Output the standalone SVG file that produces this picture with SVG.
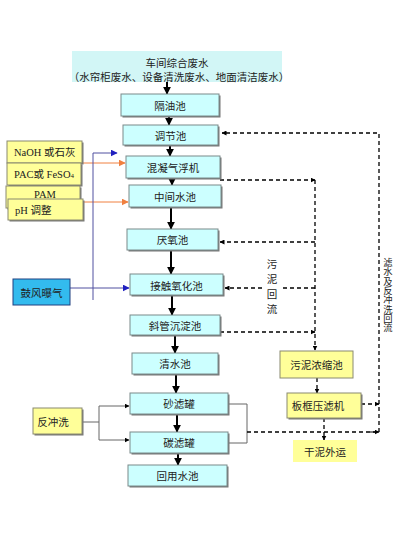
<svg xmlns="http://www.w3.org/2000/svg" width="400" height="540" viewBox="0 0 400 540">
<style>
text{font-family:"Noto Sans CJK SC","Liberation Sans",sans-serif;font-size:10.5px;fill:#222;text-anchor:middle;dominant-baseline:central}
.serif{font-family:"Liberation Serif","Noto Sans CJK SC",serif;text-anchor:start}
.v{font-size:9.3px;writing-mode:vertical-rl;text-anchor:start;dominant-baseline:auto}
.c{fill:#ccffff;stroke:#7a8a8a;stroke-width:1}
.y{fill:#ffff99;stroke:#8a8a70;stroke-width:1}
.sh{fill:#777}
.main{stroke:#000;stroke-width:2;fill:none;marker-end:url(#ah)}
.dash{stroke:#000;stroke-width:1.3;stroke-dasharray:4 3;fill:none}
.gray{stroke:#666;stroke-width:1;fill:none}
</style>
<defs>
<marker id="ah" viewBox="0 0 10 10" refX="9" refY="5" markerWidth="4" markerHeight="4" orient="auto"><path d="M0,0L10,5L0,10z" fill="#000"/></marker>
<marker id="ad" viewBox="0 0 10 10" refX="9" refY="5" markerWidth="5" markerHeight="5" markerUnits="userSpaceOnUse" orient="auto"><path d="M0,0L10,5L0,10z" fill="#000"/></marker>
<marker id="ab" viewBox="0 0 10 10" refX="9" refY="5" markerWidth="7" markerHeight="7" markerUnits="userSpaceOnUse" orient="auto"><path d="M0,0L10,5L0,10z" fill="#2020c0"/></marker>
<marker id="ao" viewBox="0 0 10 10" refX="9" refY="5" markerWidth="7" markerHeight="7" markerUnits="userSpaceOnUse" orient="auto"><path d="M0,0L10,5L0,10z" fill="#f08040"/></marker>
</defs>
<rect width="400" height="540" fill="#fff"/>

<g id="connectors">
<line class="main" x1="167" y1="82" x2="167" y2="94"/>
<line class="main" x1="169" y1="116" x2="169" y2="125"/>
<line class="main" x1="170" y1="145" x2="170" y2="156"/>
<line class="main" x1="172" y1="178" x2="172" y2="185"/>
<line class="main" x1="171" y1="207" x2="171" y2="229"/>
<line class="main" x1="171" y1="250" x2="171" y2="274"/>
<line class="main" x1="172" y1="296" x2="172" y2="315"/>
<line class="main" x1="175" y1="335" x2="175" y2="353"/>
<line class="main" x1="176" y1="374" x2="176" y2="393"/>
<line class="main" x1="177" y1="414" x2="177" y2="432"/>
<line class="main" x1="178" y1="453" x2="178" y2="465"/>
<line x1="82" y1="163" x2="125" y2="163" stroke="#f08040" stroke-width="1" marker-end="url(#ao)"/>
<line x1="83" y1="202" x2="128" y2="202" stroke="#f08040" stroke-width="1" marker-end="url(#ao)"/>
<polyline points="93,300 93,153 117,153" stroke="#5050a0" stroke-width="1" fill="none" marker-end="url(#ab)"/>
<line x1="70" y1="288" x2="129" y2="288" stroke="#5050a0" stroke-width="1" marker-end="url(#ab)"/>
<polyline class="gray" points="82,422 99,422"/>
<polyline class="gray" points="99,406 99,440"/>
<line x1="99" y1="406" x2="129" y2="406" stroke="#666" stroke-width="1" marker-end="url(#ad)"/>
<line x1="99" y1="440" x2="129" y2="440" stroke="#666" stroke-width="1" marker-end="url(#ad)"/>
<polyline class="gray" points="228,404 247,404 247,443 228,443"/>
<polyline class="dash" points="247,432 379,432"/>
<line x1="370" y1="432" x2="379" y2="432" stroke="#000" stroke-width="1" marker-end="url(#ad)"/>
<polyline class="dash" points="379,432 379,133 222,133" marker-end="url(#ad)"/>
<polyline class="dash" points="361,404 379,404" marker-end="url(#ad)"/>
<polyline class="dash" points="220,180 315,180" marker-end="url(#ad)"/>
<polyline class="dash" points="315,180 315,350" marker-end="url(#ad)"/>
<polyline class="dash" points="315,242 220,242" marker-end="url(#ad)"/>
<polyline class="dash" points="315,288 283,288"/>
<polyline class="dash" points="262,288 225,288" marker-end="url(#ad)"/>
<polyline class="dash" points="220,332 315,332" marker-end="url(#ad)"/>
<polyline class="dash" points="317,378 317,393" marker-end="url(#ad)"/>
<polyline class="dash" points="324,418 324,440" marker-end="url(#ad)"/>
<text x="272" y="263">污</text>
<text x="272" y="278">泥</text>
<text x="272" y="293">回</text>
<text x="272" y="308">流</text>
<text class="v" x="388" y="258">滤水及反冲洗回流</text>
</g>

<g id="n-source">
<rect x="72" y="51" width="210" height="31" fill="#d2f6f6"/>
<text x="177" y="62" font-size="10">车间综合废水</text>
<text x="179" y="76.5" font-size="8.8">（水帘柜废水、设备清洗废水、地面清洁废水）</text>
</g>
<g id="n-geyou"><rect class="sh" x="122.5" y="95.5" width="98" height="22"/><rect class="c" x="121" y="94" width="98" height="22"/><text x="170" y="105">隔油池</text></g>
<g id="n-tiaojie"><rect class="sh" x="124.5" y="126.5" width="95" height="20"/><rect class="c" x="123" y="125" width="95" height="20"/><text x="170.5" y="135">调节池</text></g>
<g id="n-qifu"><rect class="sh" x="127.5" y="157.5" width="94" height="22"/><rect class="c" x="126" y="156" width="94" height="22"/><text x="173" y="167">混凝气浮机</text></g>
<g id="n-zhongjian"><rect class="sh" x="130.5" y="186.5" width="92" height="22"/><rect class="c" x="129" y="185" width="92" height="22"/><text x="175" y="196">中间水池</text></g>
<g id="n-yanyang"><rect class="sh" x="128.5" y="230.5" width="91" height="21"/><rect class="c" x="127" y="229" width="91" height="21"/><text x="172.5" y="239.5">厌氧池</text></g>
<g id="n-jiechu"><rect class="sh" x="131.5" y="275.5" width="93" height="21"/><rect class="c" x="130" y="274" width="93" height="21"/><text x="176.5" y="285">接触氧化池</text></g>
<g id="n-xieguan"><rect class="sh" x="131.5" y="316.5" width="90" height="20"/><rect class="c" x="130" y="315" width="90" height="20"/><text x="175" y="325">斜管沉淀池</text></g>
<g id="n-qingshui"><rect class="sh" x="133.5" y="354.5" width="86" height="21"/><rect class="c" x="132" y="353" width="86" height="21"/><text x="175" y="363.5">清水池</text></g>
<g id="n-sha"><rect class="sh" x="131.5" y="394.5" width="98" height="21"/><rect class="c" x="130" y="393" width="98" height="21"/><text x="179" y="403.5">砂滤罐</text></g>
<g id="n-tan"><rect class="sh" x="131.5" y="433.5" width="98" height="21"/><rect class="c" x="130" y="432" width="98" height="21"/><text x="179" y="442.5">碳滤罐</text></g>
<g id="n-huiyong"><rect class="sh" x="129.5" y="466.5" width="99" height="21"/><rect class="c" x="128" y="465" width="99" height="21"/><text x="177.5" y="475.5">回用水池</text></g>

<g id="n-naoh"><rect class="sh" x="8.5" y="142.5" width="75" height="22"/><rect class="y" x="7" y="141" width="75" height="22"/><text class="serif" x="14" y="152">NaOH 或石灰</text></g>
<g id="n-pac"><rect class="sh" x="8.5" y="164.5" width="74" height="22"/><rect class="y" x="7" y="163" width="74" height="22"/><text class="serif" x="14" y="174">PAC或 FeSO<tspan font-size="7" dy="2">4</tspan></text></g>
<g id="n-pam"><rect class="sh" x="7.5" y="187.5" width="74" height="22"/><rect class="y" x="6" y="186" width="74" height="22"/><text class="serif" x="34" y="194.5">PAM</text></g>
<g id="n-ph"><rect class="sh" x="9.5" y="200.5" width="75" height="21"/><rect class="y" x="8" y="199" width="75" height="21"/><text class="serif" x="15" y="210">pH 调整</text></g>
<g id="n-gufeng"><rect x="13" y="279" width="57" height="26" fill="#33bbee" stroke="#204080" stroke-width="1"/><text x="41.5" y="292">鼓风曝气</text></g>
<g id="n-fanchong"><rect class="sh" x="34.5" y="409.5" width="49" height="26"/><rect class="y" x="33" y="408" width="49" height="26"/><text x="53" y="421">反冲洗</text></g>
<g id="n-wuni"><rect class="y" x="280" y="351" width="73" height="27"/><text x="316.5" y="364.5">污泥浓缩池</text></g>
<g id="n-banku"><rect class="sh" x="288.5" y="394.5" width="74" height="25"/><rect class="y" x="287" y="393" width="74" height="25"/><text x="318" y="405.5">板框压滤机</text></g>
<g id="n-ganni"><rect x="293" y="440" width="64" height="22" fill="#ffff99"/><text x="325" y="451">干泥外运</text></g>
</svg>
